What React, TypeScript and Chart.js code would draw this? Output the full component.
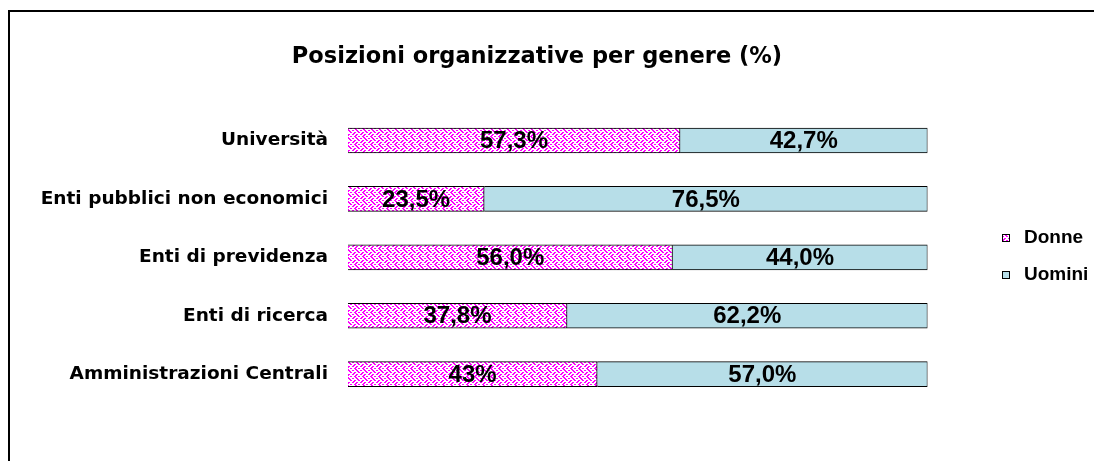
import React, { useEffect, useRef } from "react";
import { Chart, registerables } from "chart.js";

Chart.register(...registerables);

const categories = [
  "Università",
  "Enti pubblici non economici",
  "Enti di previdenza",
  "Enti di ricerca",
  "Amministrazioni Centrali",
];
const donneValues = [57.3, 23.5, 56.0, 37.8, 43.0];
const uominiValues = [42.7, 76.5, 44.0, 62.2, 57.0];
const donneLabels = ["57,3%", "23,5%", "56,0%", "37,8%", "43%"];
const uominiLabels = ["42,7%", "76,5%", "44,0%", "62,2%", "57,0%"];
const seriesNames = ["Donne", "Uomini"];
const titleText = "Posizioni organizzative per genere (%)";

const MAGENTA = "#FF00FF";
const BLUE = "#B7DEE8";

const WEAVE = [
  "10001000",
  "01000101",
  "00100010",
  "01010001",
  "10001000",
  "00010101",
  "00100010",
  "01000101",
];

function makePattern(ctx: CanvasRenderingContext2D) {
  const off = document.createElement("canvas");
  off.width = 8;
  off.height = 8;
  const o = off.getContext("2d")!;
  o.fillStyle = MAGENTA;
  o.fillRect(0, 0, 8, 8);
  o.fillStyle = "#FFFFFF";
  for (let y = 0; y < 8; y++) {
    for (let x = 0; x < 8; x++) {
      const on = WEAVE[y][x] === "1" || WEAVE[y][(x + 7) % 8] === "1";
      if (on) o.fillRect(x, y, 1, 1);
    }
  }
  return ctx.createPattern(off, "repeat")!;
}

export default function App() {
  const ref = useRef<HTMLCanvasElement>(null);

  useEffect(() => {
    document.body.style.margin = "0";
    const canvas = ref.current!;
    const ctx = canvas.getContext("2d")!;
    const pattern = makePattern(ctx);
    const allLabels = [donneLabels, uominiLabels];

    const decor = {
      id: "decor",
      beforeDraw(chart: any) {
        const c = chart.ctx;
        c.save();
        c.fillStyle = "#FFFFFF";
        c.fillRect(0, 0, chart.width, chart.height);
        c.strokeStyle = "#000000";
        c.lineWidth = 2;
        c.beginPath();
        c.moveTo(9, chart.height + 2);
        c.lineTo(9, 11);
        c.lineTo(chart.width + 2, 11);
        c.stroke();
        // title
        c.font = "bold 22.5px 'DejaVu Sans', sans-serif";
        c.fillStyle = "#000000";
        c.textAlign = "center";
        c.textBaseline = "middle";
        c.fillText(titleText, 537, 57);
        c.restore();
      },
      afterDatasetsDraw(chart: any) {
        const c = chart.ctx;
        c.save();
        c.font = "bold 24px 'Liberation Sans', Arial, sans-serif";
        c.fillStyle = "#000000";
        c.textAlign = "center";
        c.textBaseline = "middle";
        chart.data.datasets.forEach((ds: any, di: number) => {
          const meta = chart.getDatasetMeta(di);
          meta.data.forEach((bar: any, i: number) => {
            const cx = (bar.x + bar.base) / 2;
            c.fillText(allLabels[di][i], cx, bar.y + 1);
          });
        });
        // legend
        const fills = [pattern, BLUE];
        const ys = [237.5, 274.5];
        c.font = "bold 19px 'Liberation Sans', Arial, sans-serif";
        c.textAlign = "left";
        seriesNames.forEach((name, i) => {
          c.fillStyle = fills[i] as any;
          c.fillRect(1002, ys[i] - 3.5, 7, 7);
          c.strokeStyle = "#000000";
          c.lineWidth = 1;
          c.strokeRect(1002.5, ys[i] - 3, 7, 7);
          c.fillStyle = "#000000";
          c.fillText(name, 1024, ys[i]);
        });
        c.restore();
      },
    };

    const chart = new Chart(canvas, {
      type: "bar",
      data: {
        labels: categories,
        datasets: [
          {
            label: seriesNames[0],
            data: donneValues,
            backgroundColor: pattern as any,
            borderColor: "#000000",
            borderWidth: 1,
            barThickness: 25,
          },
          {
            label: seriesNames[1],
            data: uominiValues,
            backgroundColor: BLUE,
            borderColor: "#000000",
            borderWidth: 1,
            barThickness: 25,
          },
        ],
      },
      options: {
        indexAxis: "y",
        responsive: false,
        animation: false,
        devicePixelRatio: 1,
        layout: { padding: { left: 0, right: 166.5, top: 111.3, bottom: 57.6 } },
        plugins: {
          legend: { display: false },
          tooltip: { enabled: false },
          title: { display: false },
        },
        scales: {
          x: {
            stacked: true,
            min: 0,
            max: 100,
            display: false,
          },
          y: {
            stacked: true,
            grid: { display: false, drawTicks: false },
            border: { display: false },
            ticks: {
              color: "#000000",
              padding: 20,
              font: { family: "'DejaVu Sans'", weight: "bold", size: 18.5 },
            },
            afterFit(scale: any) {
              scale.width = 348;
            },
          },
        },
      },
      plugins: [decor],
    });
    return () => chart.destroy();
  }, []);

  return <canvas ref={ref} width={1094} height={461} style={{ display: "block" }} />;
}
